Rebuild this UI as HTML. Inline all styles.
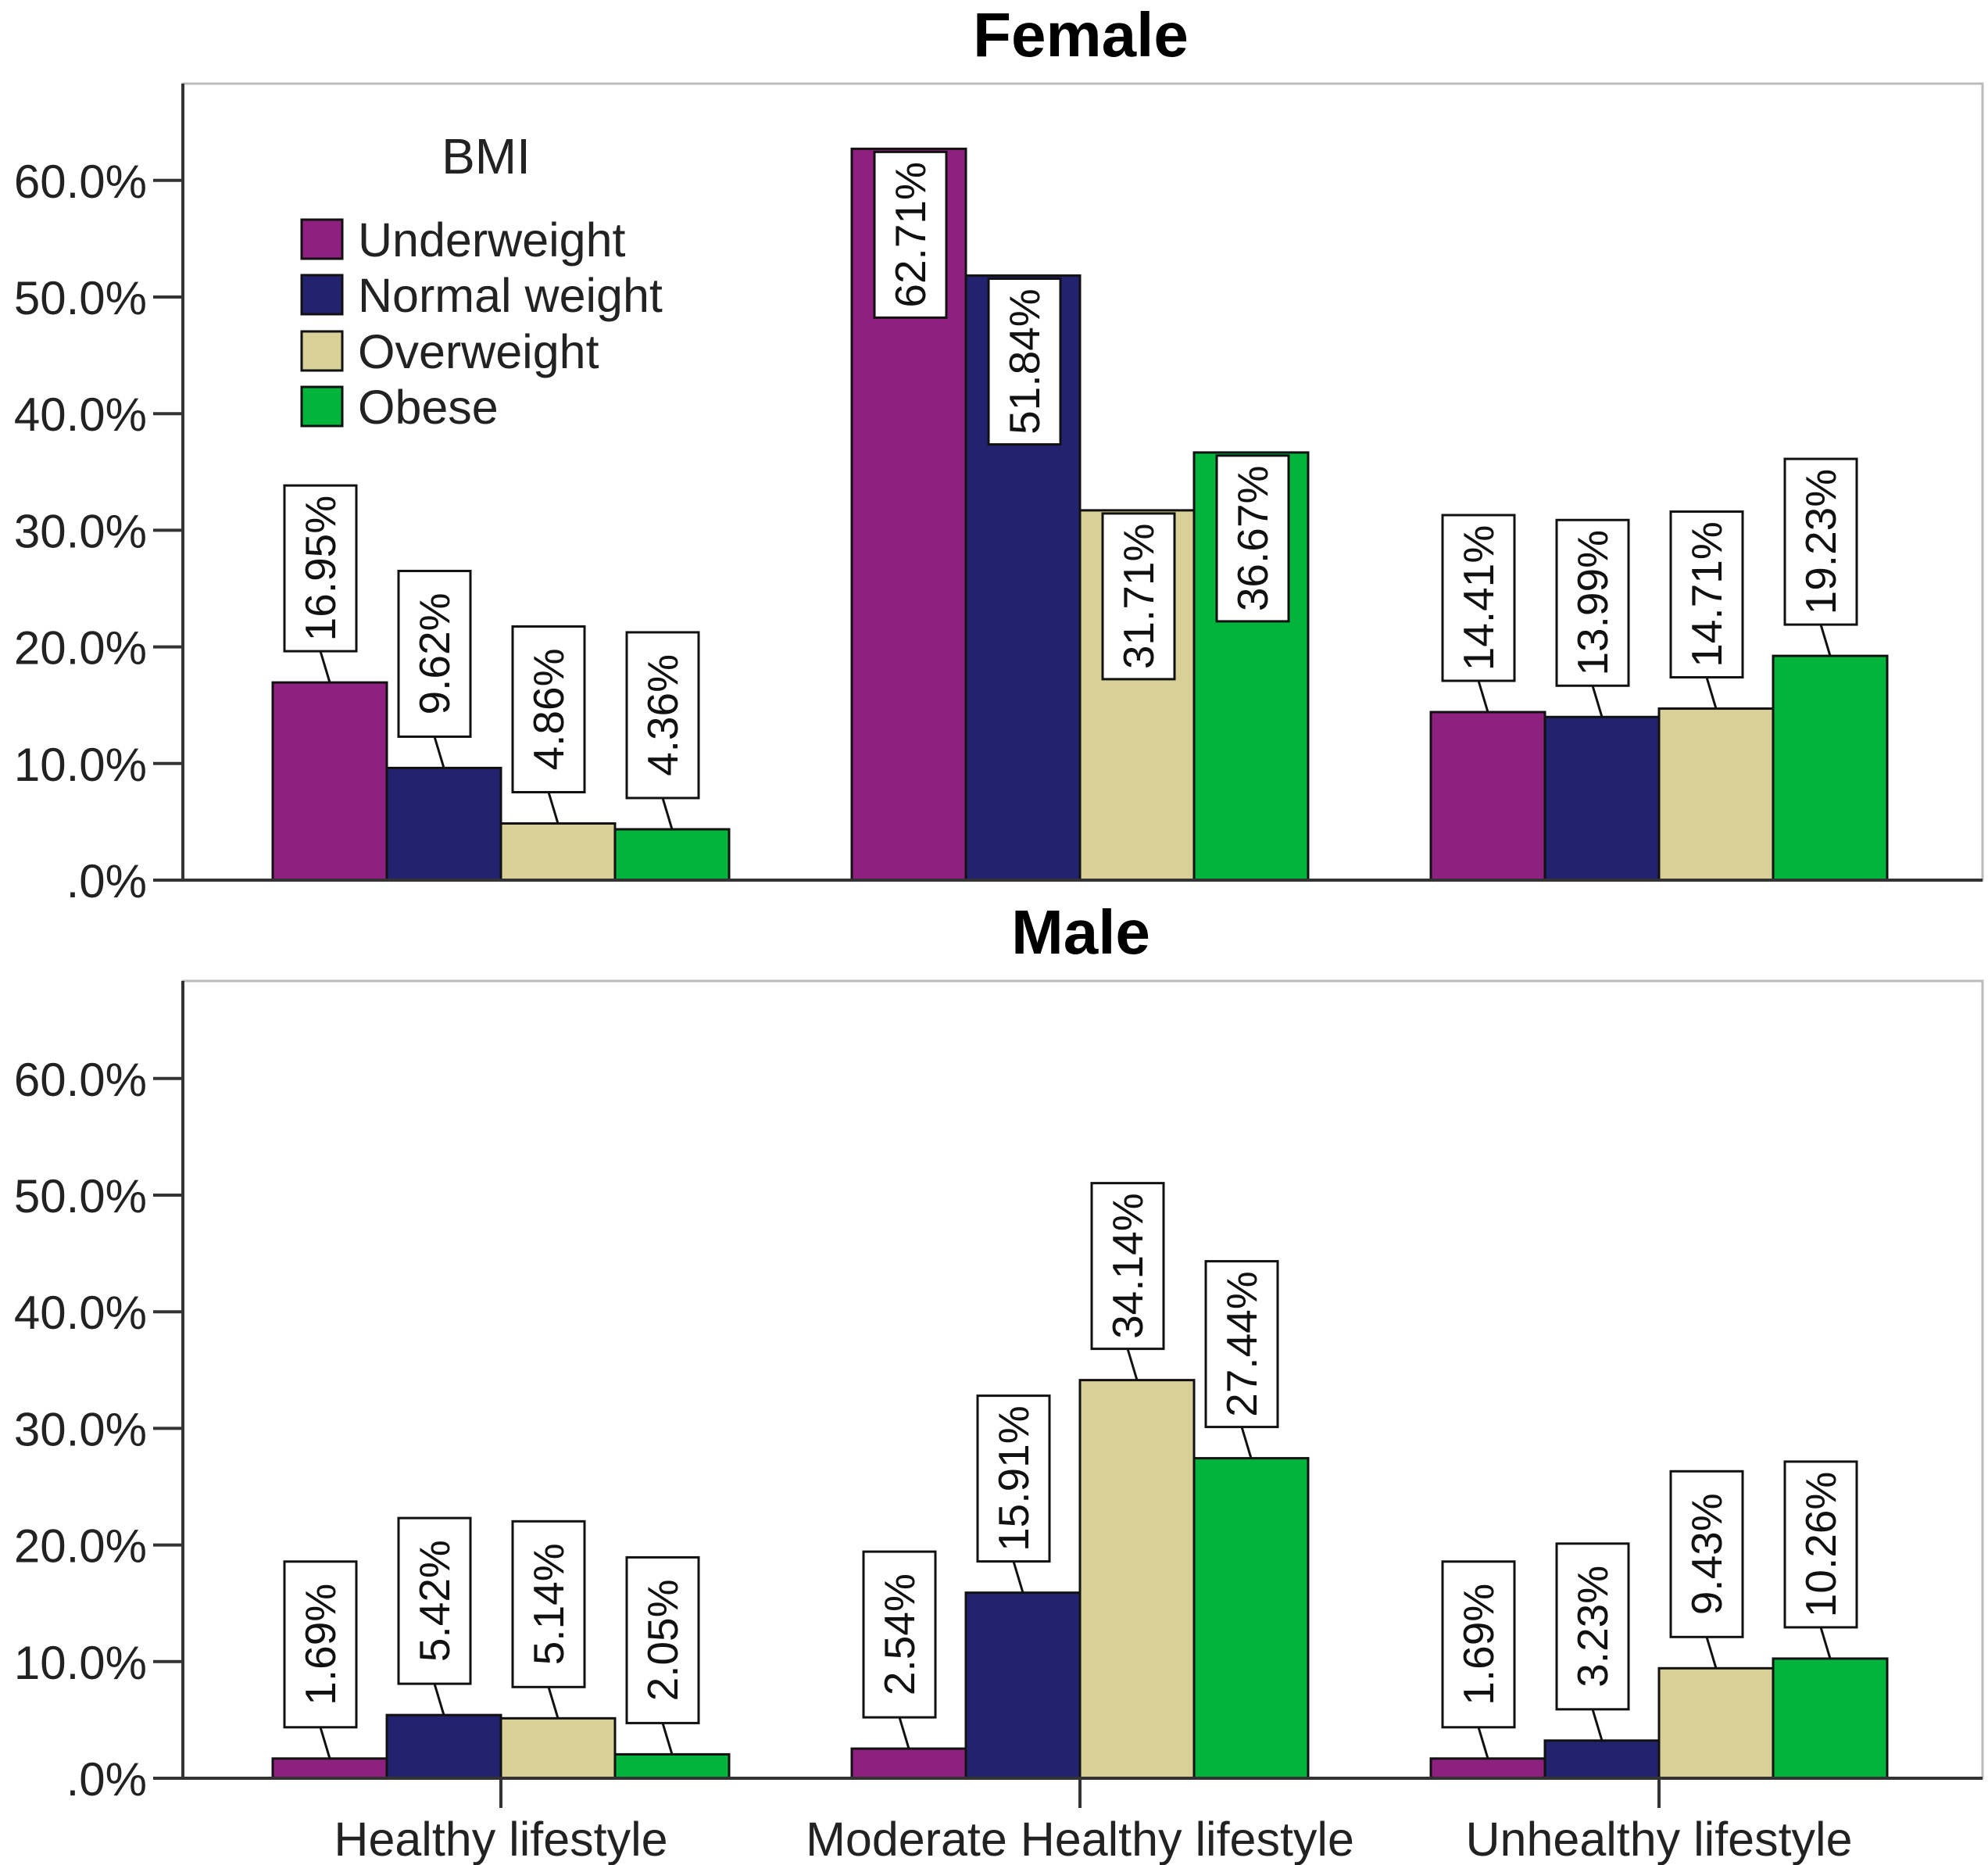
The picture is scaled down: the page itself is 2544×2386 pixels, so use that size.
<!DOCTYPE html>
<html><head><meta charset="utf-8"><style>
html,body{margin:0;padding:0;background:#fff;}
svg{display:block;font-family:"Liberation Sans",Arial,sans-serif;}
</style></head><body>
<svg id="chart" width="2544" height="2386" viewBox="0 0 2544 2386">
<g id="g"></g>
</svg>
<script>
const categories = ["Healthy lifestyle","Moderate Healthy lifestyle","Unhealthy lifestyle"];
const seriesNames = ["Underweight","Normal weight","Overweight","Obese"];
const female = [[16.95,62.71,14.41],[9.62,51.84,13.99],[4.86,31.71,14.71],[4.36,36.67,19.23]];
const male = [[1.69,2.54,1.69],[5.42,15.91,3.23],[5.14,34.14,9.43],[2.05,27.44,10.26]];
const femaleInside = [[false,true,false],[false,true,false],[false,true,false],[false,true,false]];
const maleInside = [[false,false,false],[false,false,false],[false,false,false],[false,false,false]];
const yTicks = [0,10,20,30,40,50,60];
const yTickLabels = [".0%","10.0%","20.0%","30.0%","40.0%","50.0%","60.0%"];
const colors = ["#8E2180","#22226F","#D8D096","#00B43C"];

const NS="http://www.w3.org/2000/svg";
const root=document.getElementById('g');
function mk(tag,attrs,parent){const e=document.createElementNS(NS,tag);for(const k in attrs)e.setAttribute(k,attrs[k]);(parent||root).appendChild(e);return e;}

const axL=234, axR=2537, unit=149.2/10, barW=146, groupStart=349, groupStep=741;
function xBar(ci,si){return groupStart+ci*groupStep+si*barW;}

function panel(title,titleY,top,base,data,inside,showX,key){
  const yS=v=>base-v*unit;
  const t=mk('text',{x:1383,y:titleY,'text-anchor':'middle','font-size':80,'font-weight':'bold',fill:'#000'});
  t.textContent=title;
  
  
  const fr=mk('rect',{x:axL,y:top,width:axR-axL,height:base-top,fill:'#fff',stroke:'#bbb','stroke-width':3});
  
  
  yTicks.forEach((v,i)=>{
    const tk=mk('line',{x1:196,x2:axL,y1:yS(v),y2:yS(v),stroke:'#333','stroke-width':4});
    
    
    const tl=mk('text',{x:188,y:yS(v)+22,'text-anchor':'end','font-size':60,fill:'#222'});
    tl.textContent=yTickLabels[i];
    
    
  });
  data.forEach((ser,si)=>ser.forEach((v,ci)=>{
    const x=xBar(ci,si);
    const r=mk('rect',{x:x,y:yS(v),width:barW,height:v*unit,fill:colors[si],stroke:'#111','stroke-width':3});
    
    
  }));
  data.forEach((ser,si)=>ser.forEach((v,ci)=>{
    const x=xBar(ci,si), cx=x+barW/2, bw=92, bh=212;
    let by, off;
    if(inside[si][ci]){by=yS(v)+4; off=2;}
    else{
      off=-12;
      by=yS(v)-40-bh;
      const ln=mk('line',{x1:cx+off,y1:by+bh,x2:cx,y2:yS(v),stroke:'#111','stroke-width':3});
      
      
    }
    const bx=mk('rect',{x:cx-bw/2+off,y:by,width:bw,height:bh,fill:'#fff',stroke:'#111','stroke-width':3});
    
    
    const tx=cx+off, ty=by+bh/2;
    const lt=mk('text',{x:tx,y:ty,'text-anchor':'middle','dominant-baseline':'central','font-size':55,fill:'#111',transform:'rotate(-90 '+tx+' '+ty+')'});
    lt.textContent=v.toFixed(2)+'%';
    
    
  }));
  const ax=mk('line',{x1:axL,x2:axL,y1:top,y2:base,stroke:'#333','stroke-width':4});
  
  
  const bl=mk('line',{x1:axL,x2:axR,y1:base,y2:base,stroke:'#333','stroke-width':4});
  
  
  if(showX){
    categories.forEach((c,ci)=>{
      const cx=groupStart+ci*groupStep+2*barW;
      const tk=mk('line',{x1:cx,x2:cx,y1:base,y2:base+38,stroke:'#333','stroke-width':4});
      
      
      const tl=mk('text',{x:cx,y:2374,'text-anchor':'middle','font-size':61,fill:'#222'});
      tl.textContent=c;
      
      
    });
  }
}
panel("Female",72,107,1126,female,femaleInside,false,'female');
panel("Male",1220,1255,2275,male,maleInside,true,'male');

// legend
const lt=mk('text',{x:622,y:222,'text-anchor':'middle','font-size':64,fill:'#222'});
lt.textContent="BMI";


const rows=[306,377,449,520];
seriesNames.forEach((n,i)=>{
  const sw=mk('rect',{x:386,y:rows[i]-25,width:52,height:50,fill:colors[i],stroke:'#111','stroke-width':3});
  
  
  const t=mk('text',{x:458,y:rows[i]+22,'font-size':61,fill:'#222'});
  t.textContent=n;
  
  
});
</script>
</body></html>
